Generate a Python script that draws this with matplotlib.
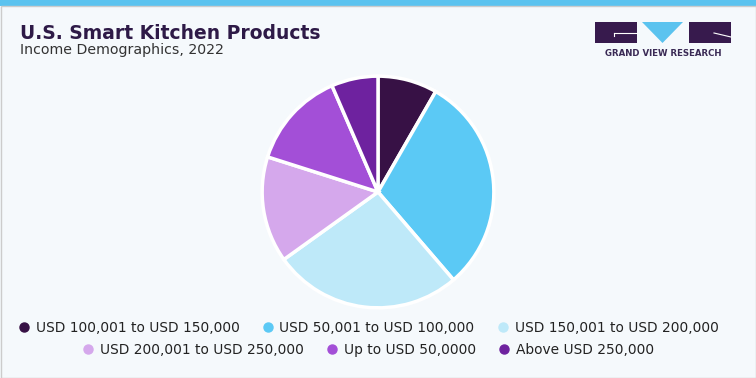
import matplotlib.pyplot as plt
from matplotlib.patches import Rectangle, Polygon
from matplotlib.lines import Line2D

# data (share of market, %)
labels = [
    "USD 100,001 to USD 150,000",
    "USD 50,001 to USD 100,000",
    "USD 150,001 to USD 200,000",
    "USD 200,001 to USD 250,000",
    "Up to USD 50,0000",
    "Above USD 250,000",
]
shares = [8.3, 30.4, 26.4, 14.8, 13.6, 6.5]
colors = ["#371145", "#5BC9F5", "#BEE9F9", "#D5A8EC", "#A34FD7", "#6E229F"]

W, H = 756, 378
bg = "#F5F9FC"
dark = "#2E1A47"

fig = plt.figure(figsize=(W / 100, H / 100), dpi=100, facecolor=bg)

# frame: top stripe and thin grey border
fig.patches.append(Rectangle((0, 1 - 6 / H), 1, 6 / H, transform=fig.transFigure,
                             facecolor="#5BC3EF", edgecolor="none"))
fig.patches.append(Rectangle((0.5 / W, 0.5 / H), 1 - 1 / W, 1 - 6 / H, transform=fig.transFigure,
                             facecolor="none", edgecolor="#CCCCCC", linewidth=1))

# title
fig.text(20 / W, 1 - 39 / H, "U.S. Smart Kitchen Products", fontsize=13.5,
         fontweight="heavy", color=dark, ha="left", va="baseline")
fig.text(20 / W, 1 - 54 / H, "Income Demographics, 2022", fontsize=10.2,
         color="#333333", ha="left", va="baseline")

# logo
def px(x, y):
    return x / W, 1 - y / H

fig.patches.append(Rectangle(px(595, 43), 42 / W, 21 / H, transform=fig.transFigure,
                             facecolor="#371A4D", edgecolor="none"))
fig.patches.append(Rectangle(px(689, 43), 42 / W, 21 / H, transform=fig.transFigure,
                             facecolor="#371A4D", edgecolor="none"))
fig.patches.append(Polygon([px(642, 22), px(683, 22), px(662.5, 43)], closed=True,
                           transform=fig.transFigure, facecolor="#5BC3EF", edgecolor="none"))
fig.lines.append(Line2D([614 / W, 637 / W], [1 - 33 / H, 1 - 33 / H],
                        transform=fig.transFigure, color="white", linewidth=0.8))
fig.lines.append(Line2D([614 / W, 614 / W], [1 - 33 / H, 1 - 36 / H],
                        transform=fig.transFigure, color="white", linewidth=0.8))
fig.lines.append(Line2D([714 / W, 731 / W], [1 - 33 / H, 1 - 37 / H],
                        transform=fig.transFigure, color="white", linewidth=0.8))
fig.text(663 / W, 1 - 54 / H, "GRAND VIEW RESEARCH", fontsize=6.2, fontweight="bold",
         color="#3A2A55", ha="center", va="center")

# pie
r = 117
cx, cy = 378, 192
ax = fig.add_axes([(cx - r) / W, (H - cy - r) / H, 2 * r / W, 2 * r / H])
ax.set_facecolor(bg)
ax.pie(shares, colors=colors, startangle=90, counterclock=False,
       wedgeprops=dict(edgecolor="white", linewidth=2.5))
ax.set_xlim(-1.01, 1.01)
ax.set_ylim(-1.01, 1.01)
ax.set_aspect("equal")
ax.axis("off")

# legend, two centred rows
handles = [Line2D([], [], marker="o", linestyle="none", markersize=6.5,
                  markerfacecolor=c, markeredgecolor=c) for c in colors]
for row, yc in [(0, 328), (1, 350)]:
    sl = slice(row * 3, row * 3 + 3)
    fig.legend(handles[sl], labels[sl], ncol=3, loc="center",
               bbox_to_anchor=(0.5 - 9 / W, 1 - yc / H),
               frameon=False, fontsize=9.9, handlelength=0.6, handletextpad=0.56,
               columnspacing=1.75, labelcolor="#222222")

fig.savefig("out.png", dpi=100, facecolor=bg)
